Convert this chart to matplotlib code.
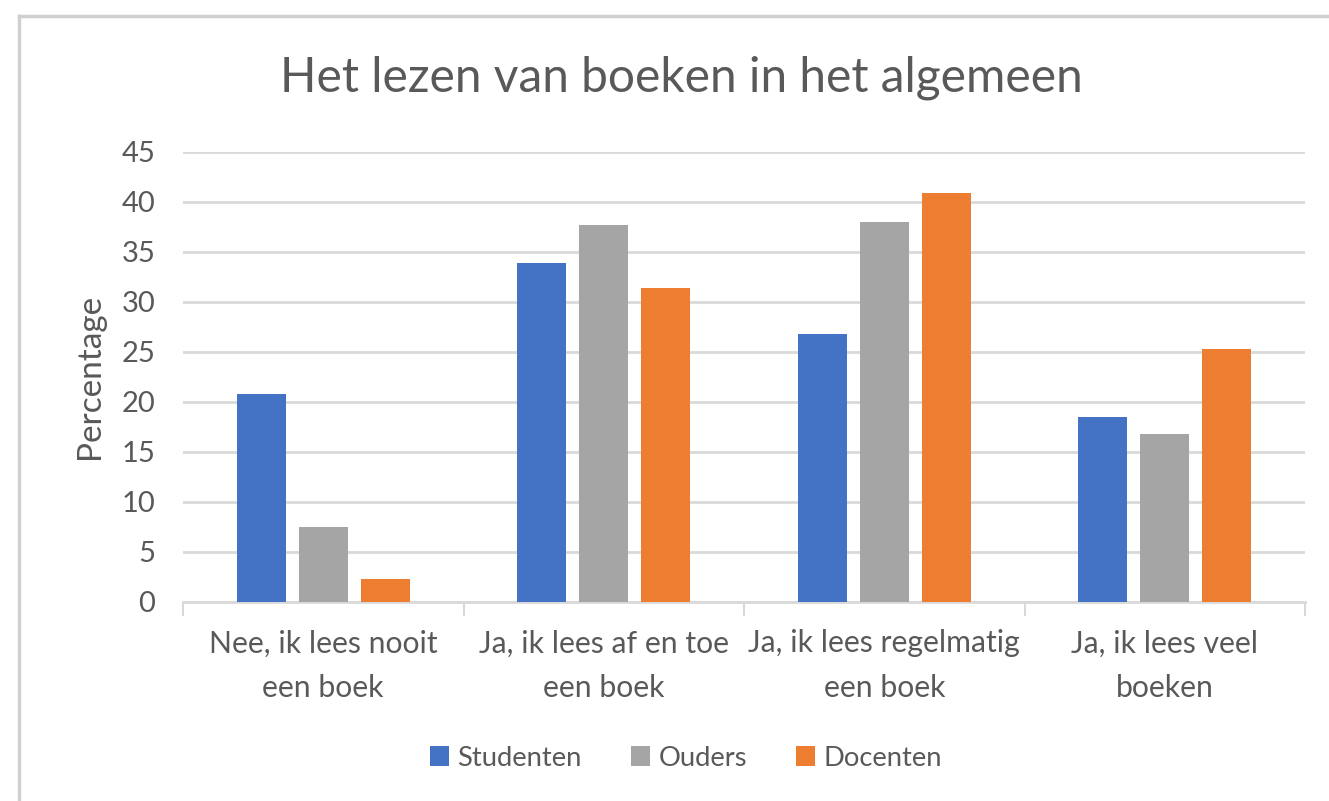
import matplotlib
matplotlib.use("Agg")
import matplotlib.pyplot as plt
import numpy as np
from matplotlib.lines import Line2D

plt.rcParams['font.family'] = ['Lato', 'DejaVu Sans']

# data
categories = ["Nee, ik lees nooit\neen boek",
              "Ja, ik lees af en toe\neen boek",
              "Ja, ik lees regelmatig\neen boek",
              "Ja, ik lees veel\nboeken"]
studenten = [20.8, 33.9, 26.8, 18.5]
ouders = [7.5, 37.7, 38.0, 16.8]
docenten = [2.3, 31.4, 40.9, 25.3]
series_names = ["Studenten", "Ouders", "Docenten"]
yticks = [0, 5, 10, 15, 20, 25, 30, 35, 40, 45]

colors = ["#4472C4", "#A5A5A5", "#ED7D31"]
txt = "#595959"
grid = "#D9D9D9"

W, H = 1329, 801
fig = plt.figure(figsize=(W / 100, H / 100), dpi=100)
ax = fig.add_axes([183 / W, 1 - 601.7 / H, (1305 - 183) / W, (601.7 - 151.7) / H])

x = np.arange(len(categories))
width = 0.173
offset = 0.221
for i, (vals, name) in enumerate(zip([studenten, ouders, docenten], series_names)):
    ax.bar(x + (i - 1) * offset, vals, width, color=colors[i], label=name, zorder=3)

ax.set_xlim(-0.5, len(categories) - 0.5)
ax.set_ylim(0, 45)
ax.set_yticks(yticks)
ax.tick_params(axis='y', length=0, pad=20, labelsize=21, labelcolor=txt)
ax.yaxis.grid(True, color=grid, linewidth=2, zorder=0)
ax.set_axisbelow(True)

# category labels between boundary ticks
ax.set_xticks(x)
ax.set_xticklabels(categories, fontsize=21.7, color=txt, linespacing=1.72)
ax.tick_params(axis='x', length=0, pad=20)
ax.set_xticks(np.arange(-0.5, len(categories)), minor=True)
ax.tick_params(axis='x', which='minor', length=10, width=1.5, color=grid)

for s in ['top', 'right', 'left']:
    ax.spines[s].set_visible(False)
ax.spines['bottom'].set_color(grid)
ax.spines['bottom'].set_linewidth(2)

ax.set_ylabel("Percentage", fontsize=24, color=txt, labelpad=12)

fig.text(681 / W, 1 - 92 / H, "Het lezen van boeken in het algemeen",
         ha='center', va='baseline', fontsize=34.5, color=txt)

ax.legend(loc='center', bbox_to_anchor=(686 / W, 1 - 758 / H),
          bbox_transform=fig.transFigure, ncol=3, frameon=False,
          fontsize=19.7, labelcolor=txt, handlelength=0.7, handleheight=0.7,
          handletextpad=0.3, columnspacing=1.8)

# chart border (top and left edges visible)
fig.add_artist(Line2D([19 / W, 19 / W], [0, 1 - 16 / H], transform=fig.transFigure,
                      color="#D0D0D0", linewidth=2.5))
fig.add_artist(Line2D([19 / W, 1], [1 - 16 / H, 1 - 16 / H], transform=fig.transFigure,
                      color="#D0D0D0", linewidth=2.5))

fig.savefig("out.png", dpi=100)
